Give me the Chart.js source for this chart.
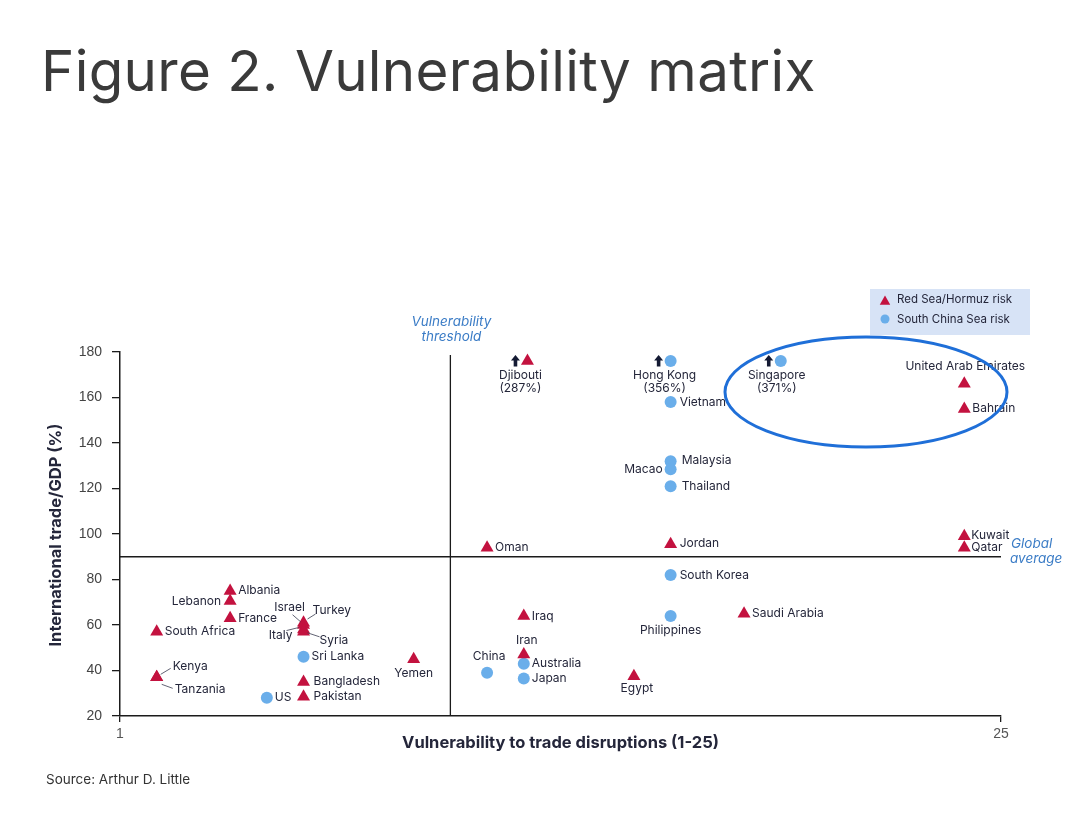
<!DOCTYPE html>
<html>
<head>
<meta charset="utf-8">
<script src="https://cdn.jsdelivr.net/npm/chart.js"></script>
<style>
  body { margin: 0; background: #fff; }
  #wrap { position: relative; width: 1080px; height: 813px; }
  #title { position: absolute; left: 41px; top: 36px; font: 400 56.5px Inter, "Noto Sans", sans-serif; color: #3a3a3a; letter-spacing: 0.3px; white-space: nowrap; }
  #source { position: absolute; left: 46px; top: 771px; font: 400 13.5px Inter, "Noto Sans", sans-serif; color: #333; }
  canvas { position: absolute; left: 0; top: 0; }
</style>
</head>
<body>
<div id="wrap">
  <canvas id="matrix" width="1080" height="813"></canvas>
  <div id="title">Figure 2. Vulnerability matrix</div>
  <div id="source">Source: Arthur D. Little</div>
</div>
<script>
// Red Sea / Hormuz risk countries
const redNames = ["Albania", "Lebanon", "France", "South Africa", "Kenya", "Tanzania",
  "Israel", "Turkey", "Italy", "Syria", "Bangladesh", "Pakistan", "Yemen", "Djibouti",
  "Oman", "Iraq", "Iran", "Jordan", "Egypt", "Saudi Arabia", "United Arab Emirates",
  "Bahrain", "Kuwait", "Qatar"];
const redX = [4, 4, 4, 2, 2, 2, 6, 6, 6, 6, 6, 6, 9, 12.1, 11, 12, 12, 16, 15, 18, 24, 24, 24, 24];
const redY = [75, 70.5, 63, 57, 37, 37, 61, 60, 58, 57, 35, 28.5, 45, 287, 94, 64, 47, 95.5, 37.5, 65, 166, 155, 99, 94];

// South China Sea risk countries
const blueNames = ["Sri Lanka", "US", "China", "Australia", "Japan", "Hong Kong", "Singapore",
  "Vietnam", "Malaysia", "Macao", "Thailand", "South Korea", "Philippines"];
const blueX = [6, 5, 11, 12, 12, 16, 19, 16, 16, 16, 16, 16, 16];
const blueY = [46, 28, 39, 43, 36.5, 356, 371, 158, 132, 128.5, 121, 82, 64];

const xTicks = [1, 25];
const yMin = 20, yMax = 180, yStep = 20;
const threshold = 10;      // vulnerability threshold
const globalAvg = 90;      // global average trade/GDP
const cap = 176;           // values above the axis are pinned here with an arrow

const RED = "#c3123f";
const BLUE = "#6aaeea";
const INK = "#24263a";
const NOTE = "#3b7cc6";
const LABEL_FONT = "12px Inter, 'Noto Sans', sans-serif";

// where each name sits next to its marker (pixels)
const place = {
  "Albania": { dx: 8, dy: 0, align: "left" },
  "Lebanon": { dx: -9, dy: 0, align: "right" },
  "France": { dx: 8, dy: 0, align: "left" },
  "South Africa": { dx: 8, dy: 0, align: "left" },
  "Kenya": { dx: 16, dy: -11, align: "left", lead: [4, -3, 14, -9] },
  "Tanzania": { dx: 18, dy: 12, align: "left", lead: [5, 7, 16, 11] },
  "Israel": { dx: -14, dy: -15, align: "center", lead: [-11, -8, -3, -1] },
  "Turkey": { dx: 9, dy: -15, align: "left", lead: [4, -6, 12, -11] },
  "Italy": { dx: -11, dy: 6, align: "right", lead: [-17, 1, -5, -2] },
  "Syria": { dx: 16, dy: 9, align: "left", lead: [4, 1, 16, 5] },
  "Bangladesh": { dx: 10, dy: 0, align: "left" },
  "Pakistan": { dx: 10, dy: 0, align: "left" },
  "Yemen": { dx: 0, dy: 14, align: "center" },
  "Djibouti": { dx: -7, dy: 14, align: "center" },
  "Oman": { dx: 8, dy: 0, align: "left" },
  "Iraq": { dx: 8, dy: 0, align: "left" },
  "Iran": { dx: 3, dy: -14, align: "center" },
  "Jordan": { dx: 9, dy: -1, align: "left" },
  "Egypt": { dx: 3, dy: 12, align: "center" },
  "Saudi Arabia": { dx: 8, dy: 0, align: "left" },
  "United Arab Emirates": { dx: 1, dy: -17, align: "center" },
  "Bahrain": { dx: 8, dy: 0, align: "left" },
  "Kuwait": { dx: 7, dy: -1, align: "left" },
  "Qatar": { dx: 7, dy: 0, align: "left" },
  "Sri Lanka": { dx: 8, dy: 0, align: "left" },
  "US": { dx: 8, dy: 0, align: "left" },
  "China": { dx: 2, dy: -16, align: "center" },
  "Australia": { dx: 8, dy: 0, align: "left" },
  "Japan": { dx: 8, dy: 0, align: "left" },
  "Hong Kong": { dx: -6, dy: 14, align: "center" },
  "Singapore": { dx: -4, dy: 14, align: "center" },
  "Vietnam": { dx: 9, dy: 0, align: "left" },
  "Malaysia": { dx: 11, dy: -1, align: "left" },
  "Macao": { dx: -8, dy: 0, align: "right" },
  "Thailand": { dx: 11, dy: 0, align: "left" },
  "South Korea": { dx: 9, dy: 0, align: "left" },
  "Philippines": { dx: 0, dy: 14, align: "center" }
};

function toPoints(names, xs, ys) {
  return names.map((n, i) => ({ x: xs[i], y: Math.min(ys[i], cap), name: n, real: ys[i] }));
}

function drawTriangle(ctx, x, y, r) {
  ctx.beginPath();
  ctx.moveTo(x, y - r);
  ctx.lineTo(x + r * 0.95, y + r * 0.7);
  ctx.lineTo(x - r * 0.95, y + r * 0.7);
  ctx.closePath();
  ctx.fill();
}

function drawArrow(ctx, x, y) {
  ctx.fillStyle = "#141a33";
  ctx.beginPath();
  ctx.moveTo(x, y - 6);
  ctx.lineTo(x + 4.5, y - 0.5);
  ctx.lineTo(x + 1.8, y - 0.5);
  ctx.lineTo(x + 1.8, y + 5.5);
  ctx.lineTo(x - 1.8, y + 5.5);
  ctx.lineTo(x - 1.8, y - 0.5);
  ctx.lineTo(x - 4.5, y - 0.5);
  ctx.closePath();
  ctx.fill();
}

const extras = {
  id: "extras",
  beforeDatasetsDraw(chart) {
    const { ctx, chartArea: a, scales: { x, y } } = chart;
    ctx.save();
    ctx.strokeStyle = "#1b1b1b";
    ctx.lineWidth = 1.3;
    // threshold and global average lines
    const tx = x.getPixelForValue(threshold);
    ctx.beginPath();
    ctx.moveTo(tx, a.top + 3);
    ctx.lineTo(tx, a.bottom);
    ctx.stroke();
    const gy = y.getPixelForValue(globalAvg);
    ctx.beginPath();
    ctx.moveTo(a.left, gy);
    ctx.lineTo(a.right, gy);
    ctx.stroke();

    ctx.fillStyle = NOTE;
    ctx.font = "italic 13.5px Inter, 'Noto Sans', sans-serif";
    ctx.textAlign = "center";
    ctx.textBaseline = "middle";
    ctx.fillText("Vulnerability", tx + 1, a.top - 30);
    ctx.fillText("threshold", tx + 1, a.top - 15);
    ctx.textAlign = "left";
    ctx.fillText("Global", a.right + 10, gy - 13);
    ctx.fillText("average", a.right + 9, gy + 2);
    ctx.restore();
  },
  afterDatasetsDraw(chart) {
    const { ctx, chartArea: a } = chart;
    ctx.save();
    ctx.font = LABEL_FONT;
    ctx.textBaseline = "middle";
    chart.data.datasets.forEach((ds, di) => {
      const meta = chart.getDatasetMeta(di);
      meta.data.forEach((el, i) => {
        const p = ds.data[i];
        const pl = place[p.name] || { dx: 8, dy: 0, align: "left" };
        if (pl.lead) {
          ctx.strokeStyle = "#3a3c50";
          ctx.lineWidth = 0.8;
          ctx.beginPath();
          ctx.moveTo(el.x + pl.lead[0], el.y + pl.lead[1]);
          ctx.lineTo(el.x + pl.lead[2], el.y + pl.lead[3]);
          ctx.stroke();
        }
        ctx.fillStyle = INK;
        ctx.textAlign = pl.align;
        ctx.fillText(p.name, el.x + pl.dx, el.y + pl.dy);
        if (p.real > cap) {
          ctx.fillText("(" + p.real + "%)", el.x + pl.dx, el.y + pl.dy + 13);
          drawArrow(ctx, el.x - 12, el.y);
          ctx.fillStyle = INK;
        }
      });
    });

    // axis titles
    ctx.fillStyle = INK;
    ctx.font = "bold 16.5px Inter, 'Noto Sans', sans-serif";
    ctx.textAlign = "center";
    ctx.fillText("Vulnerability to trade disruptions (1-25)", (a.left + a.right) / 2, a.bottom + 27);
    ctx.save();
    ctx.translate(a.left - 64, (a.top + a.bottom) / 2 + 1);
    ctx.rotate(-Math.PI / 2);
    ctx.fillText("International trade/GDP (%)", 0, 0);
    ctx.restore();

    // highlight ellipse round Singapore and the Gulf states
    ctx.strokeStyle = "#1f6fd8";
    ctx.lineWidth = 3;
    ctx.beginPath();
    ctx.ellipse(866, 392, 141, 55, 0, 0, Math.PI * 2);
    ctx.stroke();

    // legend box
    ctx.fillStyle = "#d7e3f6";
    ctx.fillRect(870, 289, 160, 46);
    ctx.fillStyle = RED;
    drawTriangle(ctx, 885, 301, 5.5);
    ctx.fillStyle = BLUE;
    ctx.beginPath();
    ctx.arc(885, 319, 4.5, 0, Math.PI * 2);
    ctx.fill();
    ctx.fillStyle = INK;
    ctx.font = "11.5px Inter, 'Noto Sans', sans-serif";
    ctx.textAlign = "left";
    ctx.fillText("Red Sea/Hormuz risk", 897, 300);
    ctx.fillText("South China Sea risk", 897, 320);
    ctx.restore();
  }
};

const ctx = document.getElementById("matrix").getContext("2d");
const matrixChart = new Chart(ctx, {
  type: "scatter",
  data: {
    datasets: [
      {
        label: "Red Sea/Hormuz risk",
        data: toPoints(redNames, redX, redY),
        pointStyle: "triangle",
        pointRadius: 7.5,
        backgroundColor: RED,
        borderColor: RED,
        borderWidth: 0
      },
      {
        label: "South China Sea risk",
        data: toPoints(blueNames, blueX, blueY),
        pointStyle: "circle",
        pointRadius: 6,
        backgroundColor: BLUE,
        borderColor: BLUE,
        borderWidth: 0
      }
    ]
  },
  options: {
    responsive: false,
    animation: false,
    layout: { padding: { left: 40, right: 79, top: 352, bottom: 45 } },
    plugins: { legend: { display: false }, tooltip: { enabled: false } },
    scales: {
      x: {
        type: "linear",
        min: xTicks[0],
        max: xTicks[xTicks.length - 1],
        afterBuildTicks: (s) => { s.ticks = xTicks.map((v) => ({ value: v })); },
        afterFit: (s) => { s.height = 52; },
        grid: { drawOnChartArea: false, tickLength: 6, color: "#1b1b1b", lineWidth: 1.3 },
        border: { color: "#1b1b1b", width: 1.5 },
        ticks: { color: "#555", font: { size: 14, family: "'Liberation Sans', Arial, sans-serif" }, padding: 4 }
      },
      y: {
        min: yMin,
        max: yMax,
        afterFit: (s) => { s.width = 80; },
        grid: { drawOnChartArea: false, tickLength: 8, color: "#1b1b1b", lineWidth: 1.3 },
        border: { color: "#1b1b1b", width: 1.5 },
        ticks: { stepSize: yStep, color: "#444", font: { size: 14, family: "'Liberation Sans', Arial, sans-serif" }, padding: 10 }
      }
    }
  },
  plugins: [extras]
});
</script>
</body>
</html>
